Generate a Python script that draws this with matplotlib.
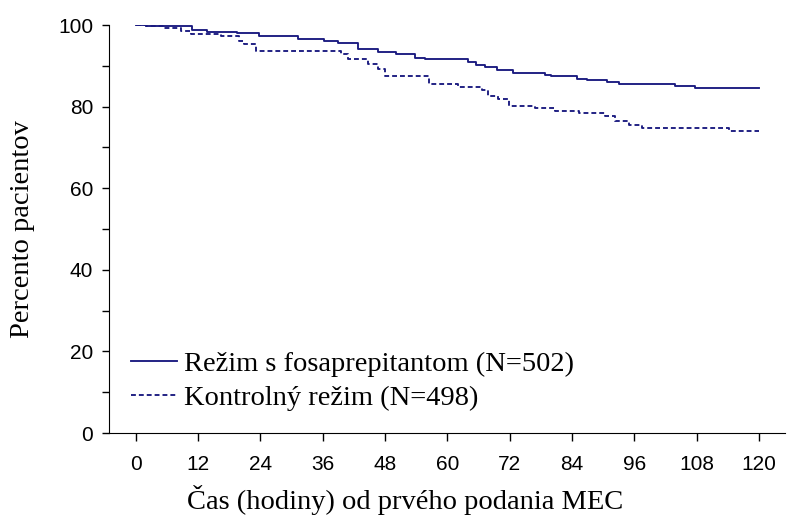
import matplotlib
matplotlib.use("Agg")
import matplotlib.pyplot as plt
from matplotlib.ticker import MultipleLocator

# Kaplan-Meier Kurven (Zeit in Stunden, Prozent Patienten)
fos_time = [0, 2, 10.8, 13.7, 19.5, 23.8, 31.2, 36.2, 39.0, 42.8, 46.7, 50.2, 53.7,
            55.6, 64.0, 65.5, 67.2, 69.5, 72.7, 78.8, 80.0, 85.0, 86.9, 90.7, 93.0,
            103.9, 107.7, 120]
fos_val = [100, 99.7, 98.8, 98.4, 98.0, 97.2, 96.7, 96.0, 95.5, 94.1, 93.4, 92.8, 92.0,
           91.7, 91.0, 90.3, 89.6, 89.0, 88.2, 87.8, 87.4, 86.9, 86.6, 86.1, 85.5,
           85.0, 84.6, 84.6]

ctrl_time = [0, 2, 5.4, 8.7, 10.6, 16.4, 19.9, 20.8, 23.2, 39.6, 40.9, 44.7, 46.7,
             47.9, 56.4, 62.0, 66.6, 67.9, 69.8, 71.8, 76.8, 80.7, 85.3, 90.4, 92.3,
             94.9, 97.5, 114.2, 120]
ctrl_val = [100, 99.8, 99.3, 98.6, 97.8, 97.2, 96.2, 95.3, 93.7, 92.9, 91.7, 90.4, 89.2,
            87.5, 85.5, 84.7, 84.1, 82.7, 81.9, 80.2, 79.6, 79.0, 78.4, 77.8, 76.5,
            75.5, 74.8, 74.1, 74.1]

labels = ["Režim s fosaprepitantom (N=502)", "Kontrolný režim (N=498)"]
x_ticks = [0, 12, 24, 36, 48, 60, 72, 84, 96, 108, 120]
y_ticks = [0, 20, 40, 60, 80, 100]

farbe = "#1a1a80"
serif = ["Liberation Serif", "DejaVu Serif"]
sans = ["Liberation Sans", "DejaVu Sans"]

fig = plt.figure(figsize=(7.9, 5.19), dpi=100)
ax = fig.add_axes([0.1384, 0.1657, 0.8553, 0.786])

ax.plot(fos_time, fos_val, drawstyle="steps-post", color=farbe, lw=1.35, label=labels[0])
ax.plot(ctrl_time, ctrl_val, drawstyle="steps-post", color=farbe, lw=1.35,
        linestyle=(0, (2.6, 1.6)), label=labels[1])

ax.set_xlim(-5.08, 125.0)
ax.set_ylim(0, 100)
ax.spines["top"].set_visible(False)
ax.spines["right"].set_visible(False)

ax.set_xticks(x_ticks)
ax.set_yticks(y_ticks)
ax.yaxis.set_minor_locator(MultipleLocator(10))
ax.tick_params(axis="x", direction="out", length=6, width=1, labelsize=15, pad=10)
ax.tick_params(axis="y", which="both", direction="out", length=5, width=1, labelsize=15, pad=6.5)
for lab in ax.get_xticklabels() + ax.get_yticklabels():
    lab.set_family(sans)

# Achsentitel, x-Titel sitzt im Original links von der Mitte
ax.set_xlabel("Čas (hodiny) od prvého podania MEC", family=serif, fontsize=20.5)
ax.xaxis.set_label_coords(0.438, -0.164)
ax.xaxis.label.set_va("center")
ax.set_ylabel("Percento pacientov", family=serif, fontsize=20.5)
ax.yaxis.set_label_coords(-0.129, 0.5)
ax.yaxis.label.set_va("center")

ax.legend(loc="lower left", bbox_to_anchor=(0.032, 0.055), frameon=False,
          prop={"family": serif, "size": 20.5}, handlelength=1.6, handletextpad=0.25,
          labelspacing=0.28, borderaxespad=0, borderpad=0)

fig.savefig("out.png", dpi=100)
